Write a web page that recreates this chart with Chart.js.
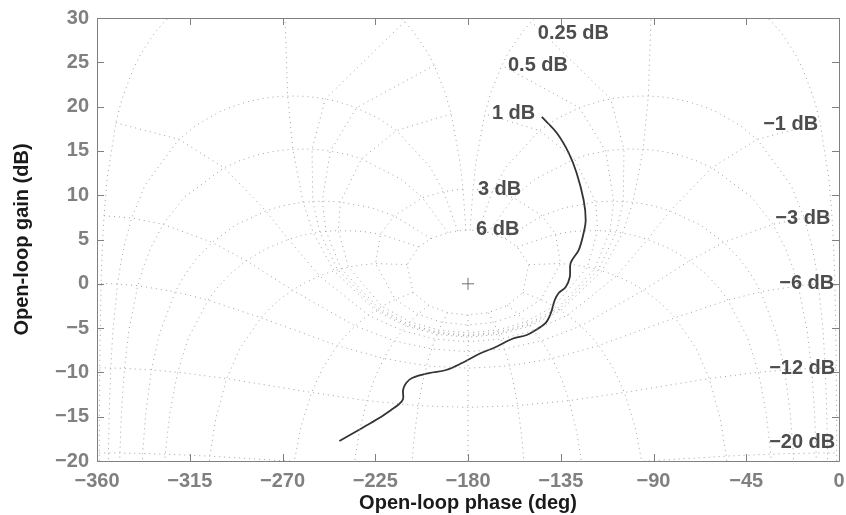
<!DOCTYPE html>
<html>
<head>
<meta charset="utf-8">
<script src="https://cdn.jsdelivr.net/npm/chart.js@4.4.0/dist/chart.umd.min.js"></script>
<style>
  html, body { margin: 0; padding: 0; background: #fff; }
</style>
</head>
<body>
<canvas id="nicholsChart" width="846" height="515"></canvas>
<script>
// axis ticks
const phaseTicks = [-360, -315, -270, -225, -180, -135, -90, -45, 0];
const gainTicks = [-20, -15, -10, -5, 0, 5, 10, 15, 20, 25, 30];

// open-loop response (deg, dB)
const loopPhase = [-144.2, -136.9, -131.1, -127.3, -123.9, -122.9, -123.9, -126.3, -130.2, -130.6,
    -132.6, -136.0, -137.9, -139.8, -142.3, -147.1, -151.5, -158.7, -166.5, -174.7,
    -182.9, -190.6, -198.9, -207.1, -210.0, -211.5, -211.5, -213.4, -217.3, -223.1,
    -231.3, -242.4];
const loopGain = [18.83, 17.02, 14.76, 12.51, 9.46, 7.2, 5.73, 3.81, 2.35, 0.77,
    -0.36, -1.04, -1.83, -3.30, -4.42, -5.21, -5.78, -6.23, -7.13, -7.92,
    -8.94, -9.73, -10.07, -10.63, -11.2, -11.99, -13.0, -13.57, -14.24, -15.15,
    -16.27, -17.74];

// Nichols grid: closed-loop gain contours (dB) and the closed-loop phases (deg) they pass through
const gainContours = [6, 3, 1, 0.5, 0.25, 0, -1, -3, -6, -12, -20];
const clPhases = [1, 5, 10, 20, 30, 50, 90, 120, 150, 180];
// closed-loop gains (dB) used for the constant-phase contours
const clGains = [6, 3, 2, 1, 0.75, 0.5, 0.4, 0.3, 0.25, 0.2, 0.15, 0.1, 0.05, 0, -0.05, -0.1, -0.15,
    -0.2, -0.25, -0.3, -0.4, -0.5, -0.75, -1, -2, -3, -4, -5, -6, -9, -12, -16, -20, -30, -40,
    -50, -60, -80, -100, -120];

// contour labels
const labelText = ['0.25 dB', '0.5 dB', '1 dB', '3 dB', '6 dB', '\u22121 dB', '\u22123 dB', '\u22126 dB', '\u221212 dB', '\u221220 dB'];
const labelPhase = [-146.1, -160.6, -168.4, -175.2, -176.1, -36.8, -30.9, -29.0, -33.9, -33.9];
const labelGain = [28.2, 24.6, 19.2, 10.6, 6.1, 18.0, 7.4, 0.0, -9.6, -17.9];

// open loop point for a closed-loop value T (|T| in dB, arg T in deg)
function openLoop(clDb, clDeg) {
    const m = Math.pow(10, clDb / 20);
    const a = clDeg * Math.PI / 180;
    const tr = m * Math.cos(a), ti = m * Math.sin(a);
    const dr = 1 - tr, di = -ti;
    const den = dr * dr + di * di;
    const gr = (tr * dr + ti * di) / den;
    const gi = (ti * dr - tr * di) / den;
    let ph = Math.atan2(gi, gr) * 180 / Math.PI;
    if (ph > 0) ph -= 360;
    return { x: ph, y: 20 * Math.log10(Math.hypot(gr, gi)) };
}

const gridStyle = {
    borderColor: '#a0a0a0',
    borderWidth: 1,
    borderDash: [1, 4],
    pointRadius: 0,
    tension: 0,
    fill: false
};

const datasets = [];
const sweep = clPhases.concat(clPhases.slice(0, -1).reverse().map(p => -p));
gainContours.forEach(g => {
    datasets.push(Object.assign({ data: sweep.map(p => openLoop(g, p)) }, gridStyle));
});
clPhases.concat(clPhases.slice(0, -1).map(p => -p)).forEach(p => {
    datasets.push(Object.assign({ data: clGains.map(g => openLoop(g, p)) }, gridStyle));
});

datasets.push({
    data: loopPhase.map((p, i) => ({ x: p, y: loopGain[i] })),
    borderColor: '#333333',
    borderWidth: 1.8,
    pointRadius: 0,
    tension: 0.35,
    fill: false
});
datasets.push({
    data: [{ x: -180, y: 0 }],
    showLine: false,
    pointStyle: 'cross',
    pointRadius: 6,
    borderColor: '#707070',
    borderWidth: 1
});

const tickFont = { family: 'Liberation Sans, Arial, sans-serif', size: 20, weight: 'bold' };
const minus = v => (v < 0 ? '\u2212' + Math.abs(v) : String(v));

const framePlugin = {
    id: 'frame',
    afterDraw(chart) {
        const ctx = chart.ctx;
        const a = chart.chartArea;
        const xs = chart.scales.x, ys = chart.scales.y;
        ctx.save();
        ctx.strokeStyle = '#808080';
        ctx.lineWidth = 1;
        ctx.beginPath();
        ctx.rect(Math.round(a.left) + 0.5, Math.round(a.top) + 0.5, Math.round(a.right - a.left), Math.round(a.bottom - a.top));
        phaseTicks.forEach(v => {
            const px = Math.round(xs.getPixelForValue(v)) + 0.5;
            ctx.moveTo(px, a.bottom); ctx.lineTo(px, a.bottom - 7);
            ctx.moveTo(px, a.top); ctx.lineTo(px, a.top + 7);
        });
        gainTicks.forEach(v => {
            const py = Math.round(ys.getPixelForValue(v)) + 0.5;
            ctx.moveTo(a.left, py); ctx.lineTo(a.left + 7, py);
            ctx.moveTo(a.right, py); ctx.lineTo(a.right - 7, py);
        });
        ctx.stroke();

        ctx.fillStyle = '#4d4d4d';
        ctx.font = 'bold 20px "Liberation Sans", Arial, sans-serif';
        ctx.textAlign = 'left';
        ctx.textBaseline = 'middle';
        labelText.forEach((t, i) => {
            ctx.fillText(t, xs.getPixelForValue(labelPhase[i]), ys.getPixelForValue(labelGain[i]));
        });
        ctx.restore();
    }
};

new Chart(document.getElementById('nicholsChart').getContext('2d'), {
    type: 'line',
    data: { datasets: datasets },
    options: {
        responsive: false,
        animation: false,
        devicePixelRatio: 1,
        layout: { padding: { left: 0, right: 5, top: 18, bottom: 0 } },
        plugins: { legend: { display: false }, tooltip: { enabled: false } },
        scales: {
            x: {
                type: 'linear',
                min: -360,
                max: 0,
                afterBuildTicks: s => { s.ticks = phaseTicks.map(v => ({ value: v })); },
                afterFit: s => { s.height = 54; },
                grid: { display: false },
                border: { display: false },
                ticks: { color: '#808080', font: tickFont, padding: 0, maxRotation: 0, callback: v => minus(v) },
                title: { display: true, text: 'Open-loop phase (deg)', color: '#1a1a1a', font: tickFont, padding: { top: 0, bottom: 0 } }
            },
            y: {
                type: 'linear',
                min: -20,
                max: 30,
                afterBuildTicks: s => { s.ticks = gainTicks.map(v => ({ value: v })); },
                afterFit: s => { s.width = 97; },
                grid: { display: false },
                border: { display: false },
                ticks: { color: '#808080', font: tickFont, padding: 0, callback: v => minus(v) },
                title: { display: true, text: 'Open-loop gain (dB)', color: '#1a1a1a', font: tickFont, padding: { top: 10, bottom: 0 } }
            }
        }
    },
    plugins: [framePlugin]
});
</script>
</body>
</html>
